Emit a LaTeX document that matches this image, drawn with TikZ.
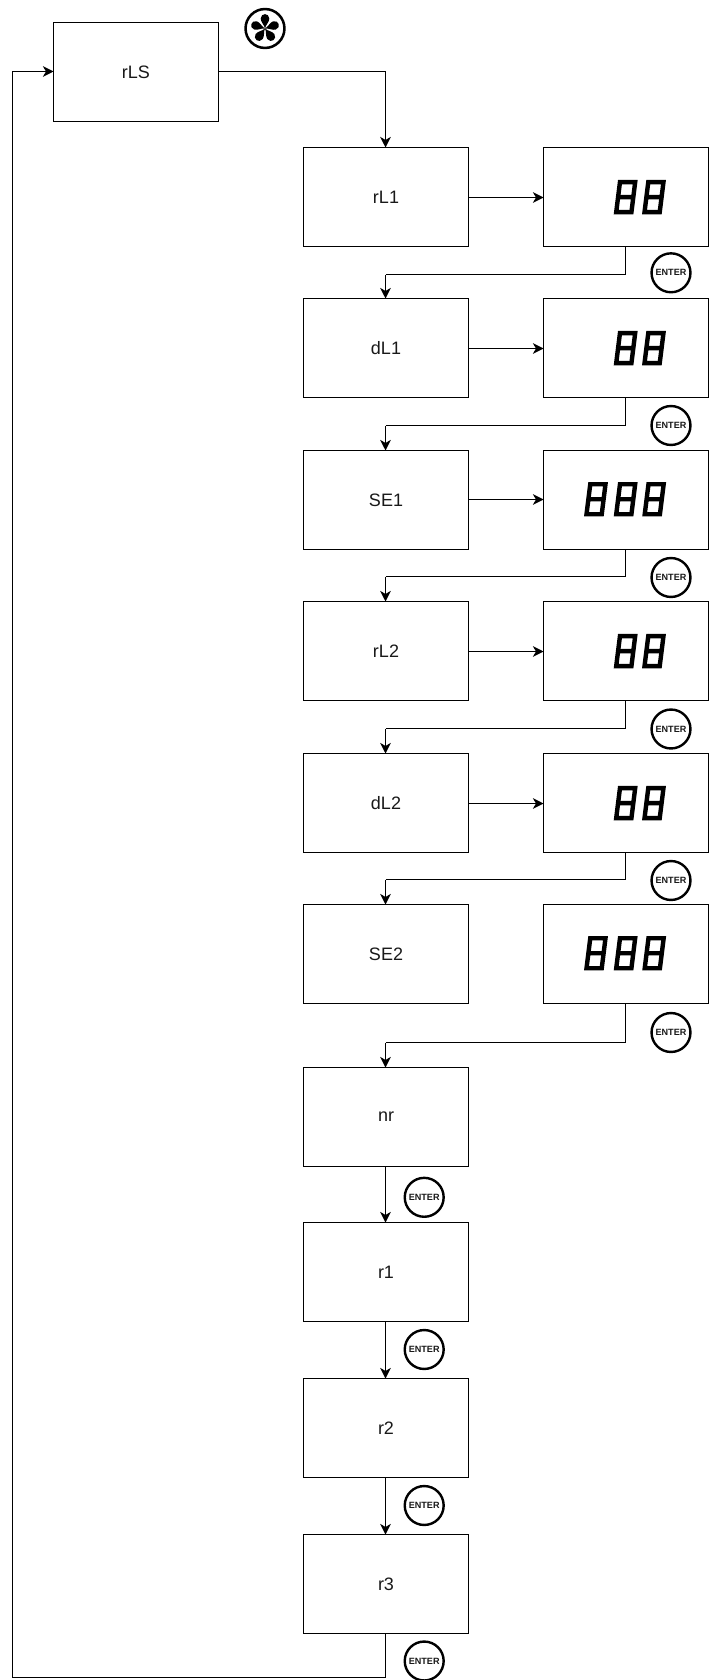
\documentclass[tikz,border=0pt]{standalone}
\usepackage{fontspec}
\setmainfont{Liberation Sans}
\usetikzlibrary{arrows.meta}
\newcommand{\sevenseg}[2]{%
  \begin{scope}[shift={(#1,#2)},xslant=0.125]
    \draw[seg] (-7.6,-15) rectangle (7.6,15) (-7.6,0) -- (7.6,0);
  \end{scope}}
\tikzset{
  x=0.75pt,y=-0.75pt,
  menubox/.style={draw=black,line width=0.75pt,fill=white,minimum width=123.75pt,minimum height=74.25pt,inner sep=0pt,outer sep=0pt,font=\fontsize{13.5pt}{15pt}\selectfont,text=black!90},
  conn/.style={draw=black,line width=0.75pt,-{Stealth[length=8pt,width=8pt,inset=2.4pt]}},
  plainline/.style={draw=black,line width=0.75pt},
  enterbtn/.style={circle,draw=black,line width=1.8pt,fill=white,minimum size=29.2pt,inner sep=0pt,outer sep=0pt,font=\fontsize{6.8pt}{7pt}\selectfont\bfseries,text=black!90},
  seg/.style={draw=black,line width=3.3pt,line join=miter},
}
\begin{document}
\begin{tikzpicture}
\useasboundingbox[fill=white] (0,0) rectangle (712,1680);
% left column
\node[menubox] (rLS) at (136,72) {rLS};
\node[menubox] (b1) at (386,197) {rL1};
\node[menubox] (b2) at (386,348) {dL1};
\node[menubox] (b3) at (386,500) {SE1};
\node[menubox] (b4) at (386,651) {rL2};
\node[menubox] (b5) at (386,803) {dL2};
\node[menubox] (b6) at (386,954) {SE2};
\node[menubox] (nr) at (386,1117) {nr};
\node[menubox] (r1) at (386,1272) {r1};
\node[menubox] (r2) at (386,1428) {r2};
\node[menubox] (r3) at (386,1584) {r3};
% right column
\node[menubox] (v1) at (626,197) {};
\node[menubox] (v2) at (626,348) {};
\node[menubox] (v3) at (626,500) {};
\node[menubox] (v4) at (626,651) {};
\node[menubox] (v5) at (626,803) {};
\node[menubox] (v6) at (626,954) {};
% displays
\foreach \yy in {197.1,348.1,651.1,803.1}{\sevenseg{625.7}{\yy}\sevenseg{654}{\yy}}
\foreach \yy in {499.2,953.2}{\sevenseg{596}{\yy}\sevenseg{625.7}{\yy}\sevenseg{654.2}{\yy}}
% enter buttons
\node[enterbtn] (e1) at (671,272.8) {ENTER};
\node[enterbtn] (e2) at (671,425.5) {ENTER};
\node[enterbtn] (e3) at (671,577.5) {ENTER};
\node[enterbtn] (e4) at (671,729) {ENTER};
\node[enterbtn] (e5) at (671,880.5) {ENTER};
\node[enterbtn] (e6) at (671,1032.5) {ENTER};
\node[enterbtn] (e7) at (424.2,1197.3) {ENTER};
\node[enterbtn] (e8) at (424.2,1349.5) {ENTER};
\node[enterbtn] (e9) at (424.2,1505.5) {ENTER};
\node[enterbtn] (e10) at (424.2,1661) {ENTER};
% fan
\node[circle,draw=black,line width=1.9pt,minimum size=29.2pt,inner sep=0pt,outer sep=0pt] (fan) at (265,28.5) {};
\foreach \a in {0,72,144,216,288}{
  \fill[black,rotate around={\a:(fan.center)},shift={(fan.center)}]
    (0,0) .. controls (-0.5,-3.5) and (-4.4,-6.5) .. (-4.3,-10)
    .. controls (-4.1,-15.8) and (4.1,-15.8) .. (4.3,-10)
    .. controls (4.4,-6.5) and (0.5,-3.5) .. (0,0) -- cycle;
}
% connector waypoints
\coordinate (a1) at (480,197.5);
\coordinate (a2) at (480,348.5);
\coordinate (a3) at (480,499.5);
\coordinate (a4) at (480,651.5);
\coordinate (a5) at (480,803.5);
\coordinate (j1) at (385.5,274.5);
\coordinate (j2) at (385.5,425.5);
\coordinate (j3) at (385.5,576.5);
\coordinate (j4) at (385.5,728.5);
\coordinate (j5) at (385.5,879.5);
\coordinate (j6) at (385.5,1042.5);
\coordinate (c0) at (385.5,71.5);
\coordinate (lb) at (385.5,1677.5);
\coordinate (ll) at (12.5,1677.5);
\coordinate (lt) at (12.5,71.5);
% connectors
\draw[plainline] (rLS.east |- c0) -- (c0);
\draw[conn] (c0) -- (c0 |- b1.north);
\foreach \i in {1,...,5}{\draw[conn] (b\i.east |- a\i) -- (v\i.west |- a\i);}
\foreach \i/\n in {1/b2,2/b3,3/b4,4/b5,5/b6,6/nr}{
  \draw[plainline] ([xshift=-0.375pt]v\i.south) |- (j\i);
  \draw[conn] (j\i) -- (j\i |- \n.north);
}
\draw[conn] (c0 |- nr.south) -- (c0 |- r1.north);
\draw[conn] (c0 |- r1.south) -- (c0 |- r2.north);
\draw[conn] (c0 |- r2.south) -- (c0 |- r3.north);
\draw[conn] (c0 |- r3.south) -- (lb) -- (ll) -- (lt) -- (lt -| rLS.west);
\end{tikzpicture}
\end{document}
